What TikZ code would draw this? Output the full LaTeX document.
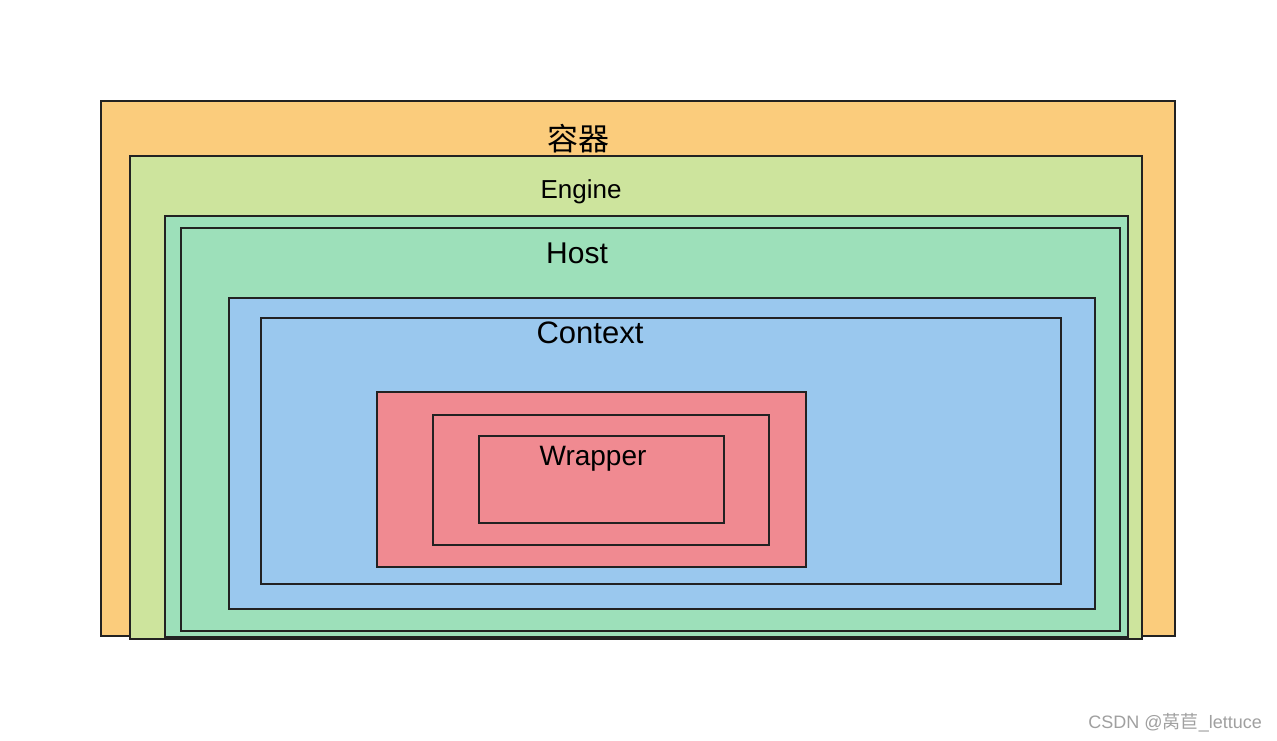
\documentclass[tikz,border=0pt]{standalone}
\usepackage{fontspec}
\setmainfont{Liberation Sans}
\newfontfamily\cjk{Noto Sans CJK SC}
\definecolor{cOrange}{HTML}{FBCC7C}
\definecolor{cLime}{HTML}{CDE49D}
\definecolor{cTeal}{HTML}{9DE0BA}
\definecolor{cBlue}{HTML}{9AC8EE}
\definecolor{cRed}{HTML}{F08A91}
\definecolor{cLine}{HTML}{222222}
\definecolor{cMark}{HTML}{A0A0A0}
\begin{document}
\begin{tikzpicture}[x=1pt,y=-1pt,
  box/.style={draw=cLine, line width=2.2pt, inner sep=0pt, outer sep=0pt, anchor=north west},
  lbl/.style={anchor=base, inner sep=0pt, text=black}]
\useasboundingbox (0,0) rectangle (1277,740);
\fill[white] (0,0) rectangle (1277,740);
\node[box, fill=cOrange, minimum width=1074pt, minimum height=535pt] (container) at (101,101) {};
\node[box, fill=cLime, minimum width=1012pt, minimum height=483pt] (engine) at (130,156) {};
\node[box, fill=cTeal, minimum width=963pt, minimum height=421pt] (hostout) at (165,216) {};
\node[box, fill=cTeal, minimum width=939pt, minimum height=403pt] (host) at (181,228) {};
\node[box, fill=cBlue, minimum width=866pt, minimum height=311pt] (ctxout) at (229,298) {};
\node[box, fill=cBlue, minimum width=800pt, minimum height=266pt] (context) at (261,318) {};
\node[box, fill=cRed, minimum width=429pt, minimum height=175pt] (wrapout) at (377,392) {};
\node[box, fill=cRed, minimum width=336pt, minimum height=130pt] (wrapmid) at (433,415) {};
\node[box, fill=cRed, minimum width=245pt, minimum height=87pt] (wrapper) at (479,436) {};
\node[lbl, font=\cjk\fontsize{31}{31}\selectfont] (tcontainer) at (578,150) {容器};
\node[lbl, font=\fontsize{26}{26}\selectfont] (tengine) at (581,198) {Engine};
\node[lbl, font=\fontsize{30}{30}\selectfont] (thost) at (577,263) {Host};
\node[lbl, font=\fontsize{31}{31}\selectfont] (tcontext) at (590,343) {Context};
\node[lbl, font=\fontsize{28}{28}\selectfont] (twrapper) at (593,465) {Wrapper};
\node[anchor=base east, inner sep=0pt, text=cMark, font=\fontsize{18}{18}\selectfont] (mark) at (1262,728) {CSDN @{\cjk 莴苣}\_lettuce};
\end{tikzpicture}
\end{document}
